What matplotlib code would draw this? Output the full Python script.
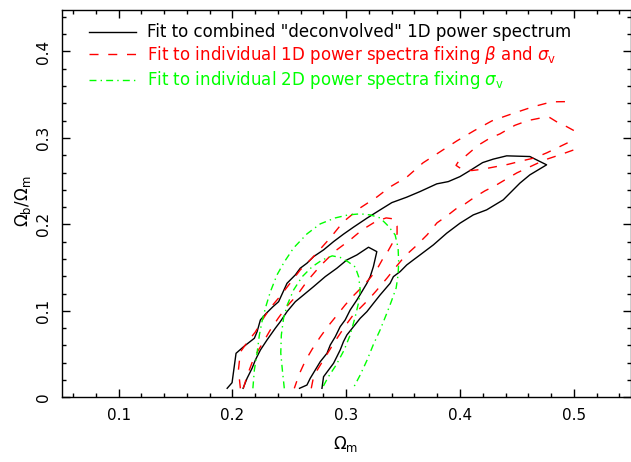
import matplotlib
matplotlib.use("Agg")
import matplotlib.pyplot as plt
from matplotlib.ticker import MultipleLocator, FixedLocator, FuncFormatter

# ---------------- data ----------------
# Black solid: fit to combined "deconvolved" 1D power spectrum
black_outer_x = [0.1954, 0.1997, 0.2032, 0.2099, 0.2193, 0.2217, 0.2246, 0.2298, 0.2357, 0.2406,
                 0.2480, 0.2553, 0.2596, 0.2655, 0.2713, 0.2801, 0.2889, 0.2976, 0.3064, 0.3182,
                 0.3298, 0.3401, 0.3532, 0.3649, 0.3796, 0.3897, 0.4000, 0.4088, 0.4199, 0.4292,
                 0.4410, 0.4614, 0.4761, 0.4614, 0.4526, 0.4380, 0.4234, 0.4117, 0.4000, 0.3883,
                 0.3766, 0.3649, 0.3590, 0.3532, 0.3474, 0.3415, 0.3386, 0.3298, 0.3240, 0.3182,
                 0.3123, 0.3064, 0.3006, 0.2976, 0.2947, 0.2918, 0.2889, 0.2845, 0.2801, 0.2787]
black_outer_y = [0.0104, 0.0169, 0.0509, 0.0586, 0.0683, 0.0759, 0.0895, 0.0972, 0.1049, 0.1106,
                 0.1319, 0.1416, 0.1493, 0.1551, 0.1627, 0.1705, 0.1801, 0.1887, 0.1968, 0.2072,
                 0.2168, 0.2252, 0.2315, 0.2380, 0.2469, 0.2495, 0.2553, 0.2623, 0.2715, 0.2755,
                 0.2793, 0.2785, 0.2689, 0.2573, 0.2477, 0.2284, 0.2168, 0.2110, 0.2014, 0.1898,
                 0.1763, 0.1647, 0.1589, 0.1531, 0.1454, 0.1396, 0.1319, 0.1184, 0.1088, 0.0991,
                 0.0914, 0.0817, 0.0721, 0.0644, 0.0547, 0.0470, 0.0394, 0.0316, 0.0238, 0.0104]
black_inner_x = [0.2094, 0.2129, 0.2173, 0.2202, 0.2246, 0.2304, 0.2377, 0.2421, 0.2480, 0.2553,
                 0.2625, 0.2713, 0.2816, 0.2918, 0.3006, 0.3094, 0.3196, 0.3269, 0.3239, 0.3211,
                 0.3182, 0.3138, 0.3094, 0.3035, 0.2991, 0.2947, 0.2904, 0.2860, 0.2831, 0.2772,
                 0.2728, 0.2684, 0.2655, 0.2590]
black_inner_y = [0.0104, 0.0220, 0.0336, 0.0432, 0.0547, 0.0663, 0.0799, 0.0875, 0.0991, 0.1106,
                 0.1184, 0.1280, 0.1396, 0.1493, 0.1589, 0.1647, 0.1736, 0.1685, 0.1512, 0.1396,
                 0.1319, 0.1222, 0.1126, 0.1010, 0.0895, 0.0817, 0.0701, 0.0605, 0.0509, 0.0412,
                 0.0316, 0.0220, 0.0142, 0.0104]

# Red dashed: fit to individual 1D power spectra fixing beta and sigma_v
red_upper_x = [0.2070, 0.2053, 0.2070, 0.2132, 0.2202, 0.2263, 0.2333, 0.2421, 0.2509, 0.2596,
               0.2702, 0.2860, 0.2974, 0.3123, 0.3272, 0.3386, 0.3535, 0.3675, 0.3825, 0.3974,
               0.4123, 0.4281, 0.4456, 0.4640, 0.4807, 0.5000]
red_upper_y = [0.0104, 0.0316, 0.0524, 0.0640, 0.0756, 0.0895, 0.1034, 0.1172, 0.1323, 0.1473,
               0.1612, 0.1844, 0.2029, 0.2191, 0.2319, 0.2434, 0.2550, 0.2712, 0.2840, 0.2967,
               0.3083, 0.3198, 0.3279, 0.3360, 0.3418, 0.3421]
red_lower_x = [0.2693, 0.2711, 0.2746, 0.2816, 0.2904, 0.2991, 0.3061, 0.3132, 0.3193, 0.3263,
               0.3360, 0.3430, 0.3518, 0.3605, 0.3711, 0.3798, 0.3886, 0.3965, 0.4044, 0.4132,
               0.4219, 0.4307, 0.4395, 0.4500, 0.4614, 0.4746, 0.4877, 0.5000]
red_lower_y = [0.0104, 0.0223, 0.0316, 0.0466, 0.0652, 0.0825, 0.0952, 0.1045, 0.1126, 0.1230,
               0.1381, 0.1497, 0.1636, 0.1740, 0.1879, 0.2018, 0.2099, 0.2180, 0.2237, 0.2318,
               0.2388, 0.2446, 0.2515, 0.2596, 0.2666, 0.2747, 0.2804, 0.2862]
red_finger_x = [0.2096, 0.2132, 0.2175, 0.2219, 0.2272, 0.2333, 0.2404, 0.2482, 0.2570, 0.2658,
                0.2772, 0.2904, 0.3035, 0.3140, 0.3254, 0.3351, 0.3421, 0.3447, 0.3447, 0.3412,
                0.3368, 0.3316, 0.3272, 0.3211, 0.3140, 0.3061, 0.2991, 0.2921, 0.2842, 0.2772,
                0.2702, 0.2640, 0.2588, 0.2544]
red_finger_y = [0.0104, 0.0258, 0.0409, 0.0524, 0.0640, 0.0779, 0.0918, 0.1057, 0.1184, 0.1346,
                0.1520, 0.1693, 0.1821, 0.1937, 0.2029, 0.2075, 0.2063, 0.1982, 0.1890, 0.1797,
                0.1693, 0.1589, 0.1485, 0.1381, 0.1277, 0.1172, 0.1068, 0.0953, 0.0825, 0.0698,
                0.0559, 0.0420, 0.0270, 0.0104]
red_island_x = [0.5000, 0.4936, 0.4860, 0.4789, 0.4702, 0.4596, 0.4482, 0.4351, 0.4263, 0.4158,
                0.4044, 0.3986, 0.3965, 0.4015, 0.4103, 0.4193, 0.4292, 0.4421, 0.4544, 0.4658,
                0.4763, 0.4877, 0.5000]
red_island_y = [0.3086, 0.3132, 0.3178, 0.3236, 0.3229, 0.3201, 0.3146, 0.3047, 0.2998, 0.2914,
                0.2785, 0.2727, 0.2683, 0.2639, 0.2623, 0.2637, 0.2662, 0.2694, 0.2735, 0.2770,
                0.2828, 0.2900, 0.2978]

# Green dash-dot: fit to individual 2D power spectra fixing sigma_v
green_outer_x = [0.2180, 0.2193, 0.2217, 0.2237, 0.2263, 0.2298, 0.2333, 0.2392, 0.2456, 0.2538,
                 0.2655, 0.2772, 0.2904, 0.3018, 0.3123, 0.3211, 0.3298, 0.3368, 0.3430, 0.3456,
                 0.3461, 0.3456, 0.3439, 0.3395, 0.3351, 0.3298, 0.3237, 0.3184, 0.3123, 0.3061]
green_outer_y = [0.0104, 0.0316, 0.0513, 0.0721, 0.0895, 0.1068, 0.1219, 0.1416, 0.1566, 0.1728,
                 0.1890, 0.2006, 0.2075, 0.2110, 0.2122, 0.2110, 0.2075, 0.1983, 0.1879, 0.1728,
                 0.1566, 0.1416, 0.1265, 0.1103, 0.0953, 0.0779, 0.0605, 0.0432, 0.0258, 0.0104]
green_inner_x = [0.2456, 0.2439, 0.2425, 0.2430, 0.2450, 0.2482, 0.2538, 0.2611, 0.2699, 0.2789,
                 0.2877, 0.2947, 0.3018, 0.3079, 0.3110, 0.3123, 0.3110, 0.3079, 0.3035, 0.2982,
                 0.2912, 0.2842, 0.2789]
green_inner_y = [0.0104, 0.0316, 0.0513, 0.0721, 0.0918, 0.1068, 0.1242, 0.1392, 0.1508, 0.1589,
                 0.1636, 0.1618, 0.1566, 0.1508, 0.1392, 0.1242, 0.1103, 0.0930, 0.0721, 0.0547,
                 0.0374, 0.0235, 0.0104]

legend_labels = [
    'Fit to combined "deconvolved" 1D power spectrum',
    r'Fit to individual 1D power spectra fixing $\beta$ and $\sigma_\mathrm{v}$',
    r'Fit to individual 2D power spectra fixing $\sigma_\mathrm{v}$',
]
x_ticks = [0.1, 0.2, 0.3, 0.4, 0.5]
y_ticks = [0.0, 0.1, 0.2, 0.3, 0.4]

# ---------------- styling ----------------
plt.rcParams['font.family'] = ['DejaVu Sans']
plt.rcParams['mathtext.fontset'] = 'dejavusans'
plt.rcParams['lines.scale_dashes'] = False

BLACK = '#000000'
RED = '#ff0000'
GREEN = '#00ff00'
LW = 1.0
ls_black = '-'
ls_red = (0, (6.5, 7.0))
ls_green = (0, (5.0, 3.0, 1.0, 3.0))

fig = plt.figure(figsize=(6.31, 4.62), dpi=100)
ax = fig.add_axes([61.7 / 631, (462 - 397.3) / 462, 569 / 631, 387.3 / 462])

for xs, ys in [(black_outer_x, black_outer_y), (black_inner_x, black_inner_y)]:
    ax.plot(xs, ys, color=BLACK, lw=LW, linestyle=ls_black)
for xs, ys in [(red_upper_x, red_upper_y), (red_lower_x, red_lower_y),
               (red_finger_x, red_finger_y), (red_island_x, red_island_y)]:
    ax.plot(xs, ys, color=RED, lw=LW, linestyle=ls_red)
for xs, ys in [(green_outer_x, green_outer_y), (green_inner_x, green_inner_y)]:
    ax.plot(xs, ys, color=GREEN, lw=LW, linestyle=ls_green)

ax.set_xlim(0.05, 0.55)
ax.set_ylim(0.0, 0.448)

ax.xaxis.set_major_locator(FixedLocator(x_ticks))
ax.yaxis.set_major_locator(FixedLocator(y_ticks))
ax.xaxis.set_minor_locator(MultipleLocator(0.02))
ax.yaxis.set_minor_locator(MultipleLocator(0.02))
fmt = FuncFormatter(lambda v, p: '0' if abs(v) < 1e-9 else f'{v:.1f}')
ax.xaxis.set_major_formatter(fmt)
ax.yaxis.set_major_formatter(fmt)

ax.tick_params(which='both', direction='in', top=True, right=True, width=1.0, color='black')
ax.tick_params(which='major', length=5.8, labelsize=11, pad=8)
ax.tick_params(which='minor', length=2.9)
for lab in ax.get_yticklabels():
    lab.set_rotation(90)
    lab.set_va('center')
for s in ax.spines.values():
    s.set_linewidth(1.0)

fig.text(346 / 631, 1 - 444 / 462, r'$\Omega_\mathrm{m}$', ha='center', va='center', fontsize=12)
fig.text(23 / 631, 1 - 201 / 462, r'$\Omega_\mathrm{b}/\Omega_\mathrm{m}$', ha='center', va='center',
         rotation=90, fontsize=12)

# legend (manual, axes coordinates)
line_y = [0.942, 0.886, 0.8193]
text_y = [0.929, 0.871, 0.806]
colors = [BLACK, RED, GREEN]
styles = [ls_black, ls_red, ls_green]
for lab, ly, ty, c, st in zip(legend_labels, line_y, text_y, colors, styles):
    ax.plot([0.048, 0.1306], [ly, ly], transform=ax.transAxes, color=c, lw=LW, linestyle=st)
    ax.text(0.15, ty, lab, transform=ax.transAxes, color=c, fontsize=12, va='baseline', ha='left')

fig.savefig('out.png', dpi=100)
